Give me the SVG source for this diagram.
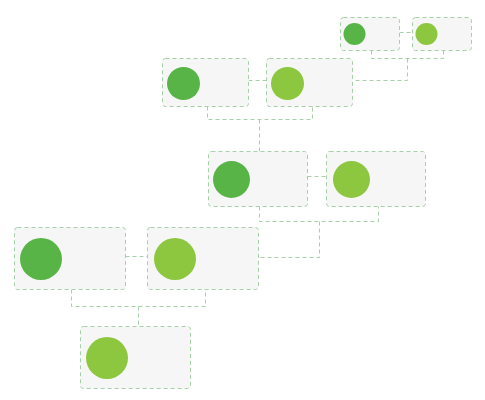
<svg xmlns="http://www.w3.org/2000/svg" width="485" height="400" viewBox="0 0 485 400">
<style>
.box{fill:#f6f6f6;stroke:#a8d0a8;stroke-width:1;stroke-dasharray:4 3}
.ln{fill:none;stroke:#a8d0a8;stroke-width:1;stroke-dasharray:4 3}
.dk{fill:#58b447}
.lt{fill:#8dc63f}
</style>
<rect width="485" height="400" fill="#ffffff"/>
<g id="connectors">
<path class="ln" d="M399.5 32.5H412.5"/>
<path class="ln" d="M371.5 50.5V58.5H443.5V50.5"/>
<path class="ln" d="M407.5 58.5V80.5H352.5"/>
<path class="ln" d="M248.5 80.5H266.5"/>
<path class="ln" d="M207.5 106.5V119.5H312.5V106.5"/>
<path class="ln" d="M259.5 119.5V151.5"/>
<path class="ln" d="M307.5 176.5H326.5"/>
<path class="ln" d="M259.5 206.5V221.5H378.5V206.5"/>
<path class="ln" d="M319.5 221.5V257.5H258.5"/>
<path class="ln" d="M125.5 256.5H147.5"/>
<path class="ln" d="M71.5 289.5V306.5H205.5V289.5"/>
<path class="ln" d="M138.5 306.5V326.5"/>
</g>
<g id="nodeA"><rect class="box" x="340.5" y="17.5" width="59" height="33" rx="3"/><circle class="dk" cx="354.5" cy="34" r="11"/></g>
<g id="nodeB"><rect class="box" x="412.5" y="17.5" width="59" height="33" rx="3"/><circle class="lt" cx="426.5" cy="34" r="11"/></g>
<g id="nodeC"><rect class="box" x="162.5" y="58.5" width="86" height="48" rx="3"/><circle class="dk" cx="183.5" cy="83.5" r="16.5"/></g>
<g id="nodeD"><rect class="box" x="266.5" y="58.5" width="86" height="48" rx="3"/><circle class="lt" cx="287.5" cy="83.5" r="16.5"/></g>
<g id="nodeE"><rect class="box" x="208.5" y="151.5" width="99" height="55" rx="3"/><circle class="dk" cx="231.5" cy="179.5" r="18.5"/></g>
<g id="nodeF"><rect class="box" x="326.5" y="151.5" width="99" height="55" rx="3"/><circle class="lt" cx="351.5" cy="179.5" r="18.5"/></g>
<g id="nodeG"><rect class="box" x="14.5" y="227.5" width="111" height="62" rx="3"/><circle class="dk" cx="41" cy="259" r="21"/></g>
<g id="nodeH"><rect class="box" x="147.5" y="227.5" width="111" height="62" rx="3"/><circle class="lt" cx="175" cy="259" r="21"/></g>
<g id="nodeI"><rect class="box" x="80.5" y="326.5" width="110" height="62" rx="3"/><circle class="lt" cx="107" cy="358" r="21"/></g>
</svg>
